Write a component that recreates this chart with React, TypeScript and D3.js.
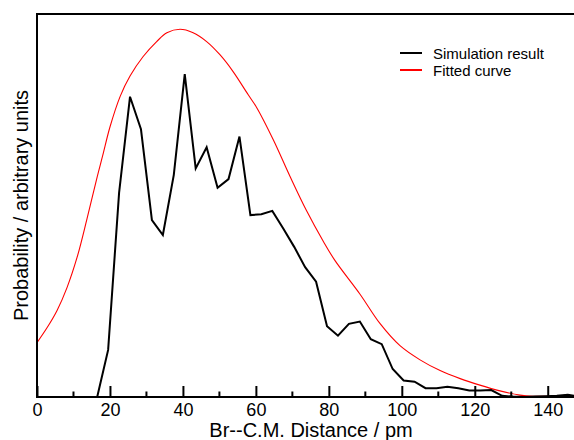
import { useEffect, useRef } from 'react';
import * as d3 from 'd3';

// simulation histogram, 3 pm bins (bin centres)
const simX = d3.range(1.5, 149, 3);
const simY = [
  0, 0, 0, 0, 0, 0, 12.3, 53.3, 78.4, 69.9, 46.2, 42.3, 58.0, 84.3, 59.7, 65.2,
  54.6, 56.9, 68.0, 47.5, 47.7, 48.6, 44.0, 39.2, 33.9, 30.1, 18.5, 16.0, 19.1,
  19.7, 15.1, 13.8, 7.3, 4.3, 4.0, 2.3, 2.3, 2.7, 2.3, 1.7, 1.7, 1.8, 0.3, 0.1,
  0, 0.1, 0.2, 0.3, 0.6, 0.1,
];

// fitted curve
const fitX = [
  0, 2.7, 5.5, 8.2, 11, 13.7, 16.5, 18, 20, 22.8, 25.5, 29.1, 32.8, 35.6, 39.2,
  42.8, 46.5, 50.2, 53.8, 57.9, 60.2, 64.8, 69.4, 73.9, 78.5, 81.7, 88.5, 94,
  99.5, 105, 110.5, 116, 121.4, 126.9, 132.4, 136, 141, 147.2,
];
const fitY = [
  14.2, 18.0, 22.6, 28.5, 36.5, 46.5, 57.5, 63.0, 70.5, 78.5, 83.8, 88.9, 92.8,
  95.1, 96.0, 95.1, 92.8, 89.3, 84.9, 78.9, 75.6, 67.1, 57.5, 48.6, 40.6, 35.6,
  26.9, 19.2, 13.4, 9.7, 6.9, 4.8, 3.1, 1.6, 0.5, 0.2, 0.2, 0.4,
];

const majorTicks = [0, 20, 40, 60, 80, 100, 120, 140];
const minorTicks = [10, 30, 50, 70, 90, 110, 130];
const legendItems = [
  { label: 'Simulation result', color: '#000' },
  { label: 'Fitted curve', color: '#ff0000' },
];

export default function App() {
  const svgRef = useRef<SVGSVGElement>(null);

  useEffect(() => {
    const svg = d3.select(svgRef.current);
    svg.selectAll('*').remove();

    const width = 574;
    const margin = { top: 14, left: 37, bottom: 397 };
    const font = '"Liberation Sans", Arial, Helvetica, sans-serif';

    const x = d3.scaleLinear().domain([0, 147.2]).range([margin.left, width]);
    const y = d3.scaleLinear().domain([0, 100]).range([margin.bottom, margin.top]);

    svg.append('clipPath').attr('id', 'plot-clip')
      .append('rect')
      .attr('x', margin.left).attr('y', margin.top - 2)
      .attr('width', width - margin.left).attr('height', margin.bottom - margin.top + 2);

    const plot = svg.append('g').attr('clip-path', 'url(#plot-clip)');

    const fitLine = d3.line<number>()
      .x((d, i) => x(fitX[i]))
      .y((d) => y(d))
      .curve(d3.curveCatmullRom.alpha(0.5));
    plot.append('path')
      .attr('d', fitLine(fitY))
      .attr('fill', 'none')
      .attr('stroke', '#ff0000')
      .attr('stroke-width', 1.1);

    const simLine = d3.line<number>()
      .x((d, i) => x(simX[i]))
      .y((d) => y(d));
    plot.append('path')
      .attr('d', simLine(simY))
      .attr('fill', 'none')
      .attr('stroke', '#000')
      .attr('stroke-width', 2);

    // frame: left and top
    svg.append('line')
      .attr('x1', margin.left).attr('x2', margin.left)
      .attr('y1', margin.top).attr('y2', margin.bottom)
      .attr('stroke', '#000').attr('stroke-width', 2);
    svg.append('line')
      .attr('x1', margin.left - 1).attr('x2', width)
      .attr('y1', margin.top).attr('y2', margin.top)
      .attr('stroke', '#000').attr('stroke-width', 2);

    // bottom axis, ticks pointing inward
    const axis = svg.append('g')
      .attr('transform', `translate(0,${margin.bottom})`)
      .call(d3.axisBottom(x).tickValues(majorTicks).tickSizeInner(-11).tickSizeOuter(0).tickPadding(6).tickFormat(d3.format('d')));
    axis.select('.domain').attr('stroke-width', 2).attr('d', `M${margin.left - 1},0H${width}`);
    axis.selectAll('.tick line').attr('stroke-width', 2);
    axis.selectAll('.tick text')
      .attr('font-family', font)
      .attr('font-size', 18)
      .attr('fill', '#000');

    svg.append('g')
      .selectAll('line')
      .data(minorTicks)
      .join('line')
      .attr('x1', (d) => x(d)).attr('x2', (d) => x(d))
      .attr('y1', margin.bottom).attr('y2', margin.bottom - 5.5)
      .attr('stroke', '#000').attr('stroke-width', 2);

    // axis titles
    svg.append('text')
      .attr('x', 311)
      .attr('y', 437)
      .attr('text-anchor', 'middle')
      .attr('font-family', font)
      .attr('font-size', 20)
      .text('Br--C.M. Distance / pm');

    svg.append('text')
      .attr('transform', `translate(27.5,${(margin.top + margin.bottom) / 2}) rotate(-90)`)
      .attr('text-anchor', 'middle')
      .attr('font-family', font)
      .attr('font-size', 20)
      .text('Probability / arbitrary units');

    // legend
    const legend = svg.append('g').attr('transform', 'translate(400,53)');
    const rows = legend.selectAll('g')
      .data(legendItems)
      .join('g')
      .attr('transform', (d, i) => `translate(0,${i * 17})`);
    rows.append('line')
      .attr('x1', 0).attr('x2', 22)
      .attr('stroke', (d) => d.color)
      .attr('stroke-width', 2);
    rows.append('text')
      .attr('x', 33).attr('y', 5.5)
      .attr('font-family', font)
      .attr('font-size', 15)
      .attr('fill', '#000')
      .text((d) => d.label);
  }, []);

  return (
    <svg
      ref={svgRef}
      width={574}
      height={440}
      style={{ position: 'absolute', left: 0, top: 0, background: '#fff' }}
    />
  );
}
